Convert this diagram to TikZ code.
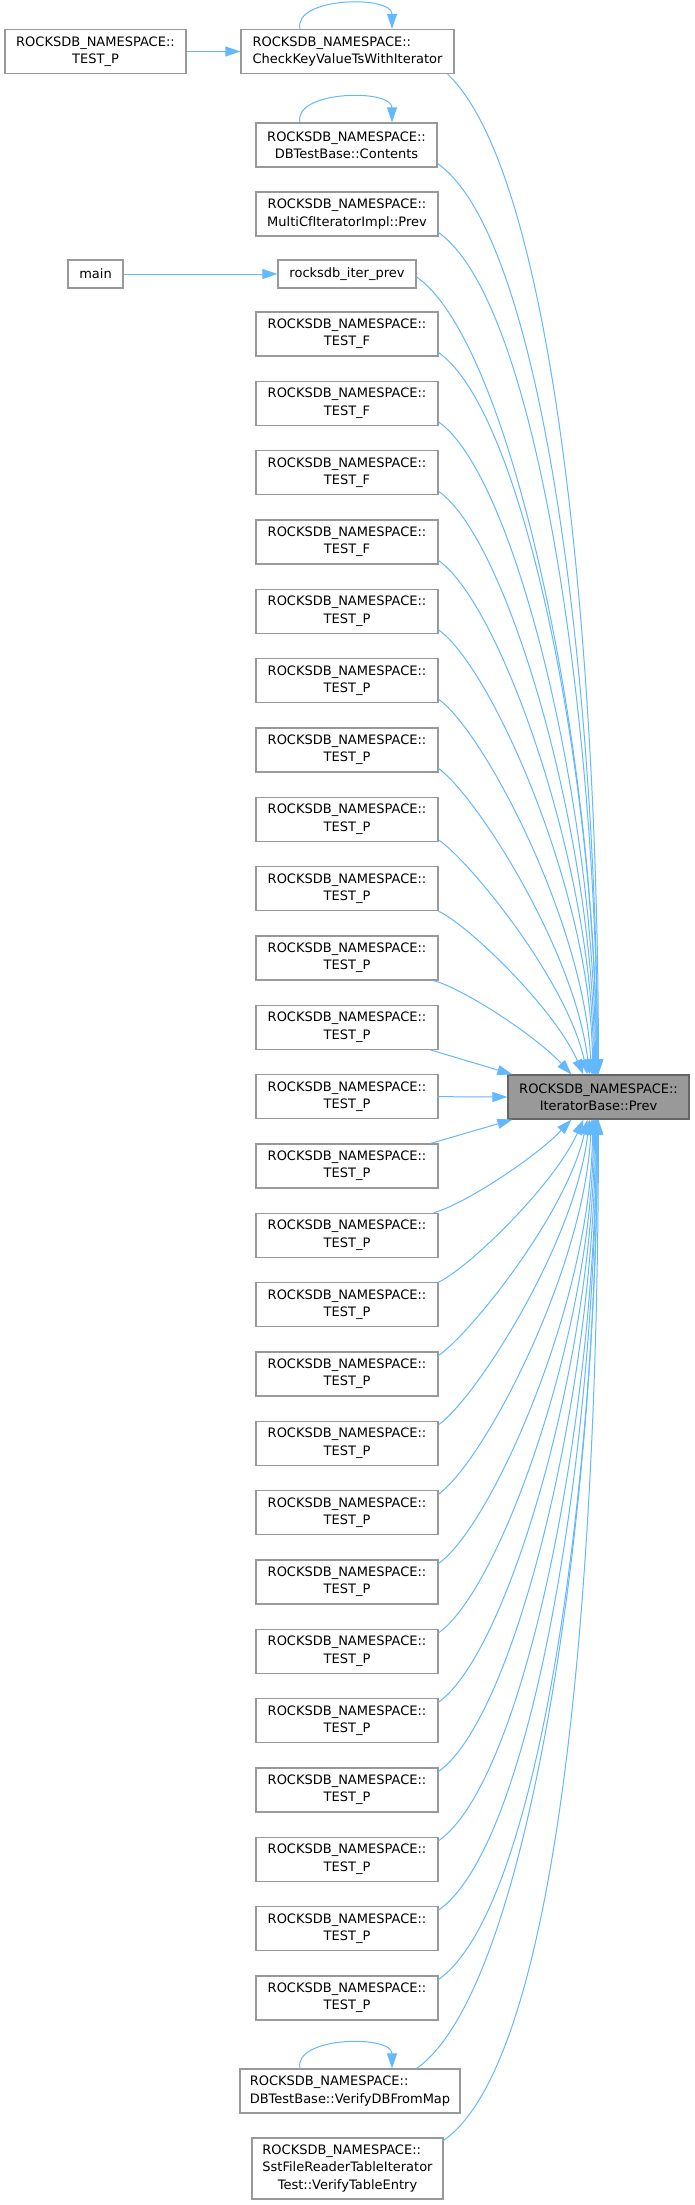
\documentclass[tikz,border=0pt]{standalone}
\usepackage{fontspec}
\setmainfont{DejaVu Sans}
\usetikzlibrary{arrows.meta,calc}
\definecolor{edgeblue}{HTML}{63B8FF}
\definecolor{boxgrey}{HTML}{999999}
\definecolor{tgtborder}{HTML}{666666}
\begin{document}
\begin{tikzpicture}[x=1pt,y=-1pt,
  fn/.style={draw=boxgrey, line width=1.2pt, fill=white, inner sep=0pt,
    minimum width=182pt, minimum height=44pt, align=center,
    font=\fontsize{13}{17.3}\selectfont},
  tgtnode/.style={fn, fill=boxgrey, draw=tgtborder},
  edge/.style={draw=edgeblue, line width=1pt, -{Triangle[length=15pt,width=10pt]}}]
\fill[white] (0,0) rectangle (695,2205);
\useasboundingbox (0,0) rectangle (695,2205);

% nodes
\node[fn, minimum width=181pt] (tp0) at (95.5,51.5) {ROCKSDB\_NAMESPACE::\\TEST\_P};
\node[fn, minimum width=213pt, align=left] (ck) at (347.5,51.5) {ROCKSDB\_NAMESPACE::\\CheckKeyValueTsWithIterator};
\node[fn, minimum width=181pt] (ct) at (346.5,145) {ROCKSDB\_NAMESPACE::\\DBTestBase::Contents};
\node[fn] (mc) at (347,214) {ROCKSDB\_NAMESPACE::\\MultiCfIteratorImpl::Prev};
\node[fn, minimum width=55pt, minimum height=28pt] (mn) at (95.5,274) {main};
\node[fn, minimum width=138pt, minimum height=28pt] (ip) at (347,274) {rocksdb\_iter\_prev};
\foreach \k/\lab in {0/F,1/F,2/F,3/F,4/P,5/P,6/P,7/P,8/P,9/P,10/P,11/P,12/P,13/P,14/P,15/P,16/P,17/P,18/P,19/P,20/P,21/P,22/P,23/P,24/P}
  \node[fn] (k\k) at (347,{334+69.333*\k}) {ROCKSDB\_NAMESPACE::\\TEST\_\lab};
\node[fn, minimum width=220pt, align=left] (vdb) at (350,2091) {ROCKSDB\_NAMESPACE::\\DBTestBase::VerifyDBFromMap};
\node[fn, minimum width=191pt, minimum height=61pt] (vte) at (347.5,2168.5)
  {\begin{tabular}{@{}c@{}}\multicolumn{1}{@{}l@{}}{ROCKSDB\_NAMESPACE::}\\SstFileReaderTableIterator\\Test::VerifyTableEntry\end{tabular}};
\node[tgtnode, minimum width=181pt] (tgt) at (598.5,1097) {ROCKSDB\_NAMESPACE::\\IteratorBase::Prev};

% plain horizontal edges
\draw[edge] (tp0.east) -- (ck.west);
\draw[edge] (mn.east) -- (ip.west);

% self loops
\draw[edge] ($(ck.north)+(-47.5,0)$) .. controls +(-7,-32) and +(0,-34) .. ($(ck.north)+(44.5,0)$);
\draw[edge] ($(ct.north)+(-46.5,0)$) .. controls +(-7,-32) and +(0,-34) .. ($(ct.north)+(45.5,0)$);
\draw[edge] ($(vdb.north)+(-50,0)$) .. controls +(-7,-32) and +(0,-34) .. ($(vdb.north)+(42,0)$);

% upper edges into target
\draw[edge] ($(ck.south east)+(-7,0)$) .. controls +(110,105) and +(0,-400) .. ($(tgt.north west)+(91,0)$);
\draw[edge] ($(ct.south east)+(0,-4)$) .. controls +(109,76) and +(0,-365) .. ($(tgt.north west)+(90,0)$);
\draw[edge] ($(mc.south east)+(0,-4)$) .. controls +(101,71) and +(0,-337) .. ($(tgt.north west)+(90,0)$);
\draw[edge] ($(ip.east)+(0,3)$) .. controls +(96,67) and +(0,-319) .. ($(tgt.north west)+(89,0)$);
\draw[edge] ($(k0.south east)+(0,-4)$) .. controls +(87,61) and +(0,-289) .. ($(tgt.north west)+(89,0)$);
\draw[edge] ($(k1.south east)+(0,-4)$) .. controls +(78,55) and +(0,-261) .. ($(tgt.north west)+(88,0)$);
\draw[edge] ($(k2.south east)+(0,-4)$) .. controls +(70,49) and +(0,-234) .. ($(tgt.north west)+(87,0)$);
\draw[edge] ($(k3.south east)+(0,-4)$) .. controls +(62,43) and +(0,-206) .. ($(tgt.north west)+(86,0)$);
\draw[edge] ($(k4.south east)+(0,-4)$) .. controls +(53,37) and +(0,-178) .. ($(tgt.north west)+(85,0)$);
\draw[edge] ($(k5.south east)+(0,-4)$) .. controls +(45,32) and +(-7,-151) .. ($(tgt.north west)+(84,0)$);
\draw[edge] ($(k6.south east)+(0,-4)$) .. controls +(37,26) and +(-14,-123) .. ($(tgt.north west)+(82,0)$);
\draw[edge] ($(k7.south east)+(0,-2)$) .. controls +(30,20) and +(-21,-95) .. ($(tgt.north west)+(80,0)$);
\draw[edge] (k8.south east) .. controls +(30,14) and +(-29,-66) .. ($(tgt.north west)+(76,0)$);
\draw[edge] ($(k9.south east)+(-5,0)$) .. controls +(30,8) and +(-35,-38) .. ($(tgt.north west)+(64,0)$);
\draw[edge] ($(k10.south east)+(-8,0)$) -- ($(tgt.north west)+(5,0)$);
\draw[edge] (k11.east) -- (tgt.west);
\draw[edge] ($(k12.north east)+(-8,0)$) -- ($(tgt.south west)+(5,0)$);

% lower edges into target
\draw[edge] ($(k13.north east)+(-5,0)$) .. controls +(30,-8) and +(-36,38) .. ($(tgt.south west)+(64,0)$);
\draw[edge] (k14.north east) .. controls +(30,-14) and +(-29,65) .. ($(tgt.south west)+(76,0)$);
\draw[edge] ($(k15.north east)+(0,4)$) .. controls +(30,-20) and +(-21,95) .. ($(tgt.south west)+(80,0)$);
\draw[edge] ($(k16.north east)+(0,4)$) .. controls +(37,-26) and +(-14,123) .. ($(tgt.south west)+(82,0)$);
\draw[edge] ($(k17.north east)+(0,4)$) .. controls +(45,-32) and +(-7,150) .. ($(tgt.south west)+(84,0)$);
\draw[edge] ($(k18.north east)+(0,4)$) .. controls +(53,-37) and +(0,178) .. ($(tgt.south west)+(85,0)$);
\draw[edge] ($(k19.north east)+(0,4)$) .. controls +(62,-43) and +(0,206) .. ($(tgt.south west)+(86,0)$);
\draw[edge] ($(k20.north east)+(0,4)$) .. controls +(70,-49) and +(0,233) .. ($(tgt.south west)+(87,0)$);
\draw[edge] ($(k21.north east)+(0,4)$) .. controls +(78,-55) and +(0,261) .. ($(tgt.south west)+(88,0)$);
\draw[edge] ($(k22.north east)+(0,4)$) .. controls +(87,-61) and +(0,289) .. ($(tgt.south west)+(89,0)$);
\draw[edge] ($(k23.north east)+(0,4)$) .. controls +(95,-66) and +(0,317) .. ($(tgt.south west)+(89,0)$);
\draw[edge] ($(k24.north east)+(0,4)$) .. controls +(103,-72) and +(0,344) .. ($(tgt.south west)+(90,0)$);
\draw[edge] ($(vdb.north east)+(-44,0)$) .. controls +(114,-80) and +(0,380) .. ($(tgt.south west)+(90,0)$);
\draw[edge] ($(vte.north east)+(0,3)$) .. controls +(123,-86) and +(0,409) .. ($(tgt.south west)+(91,0)$);
\end{tikzpicture}
\end{document}
